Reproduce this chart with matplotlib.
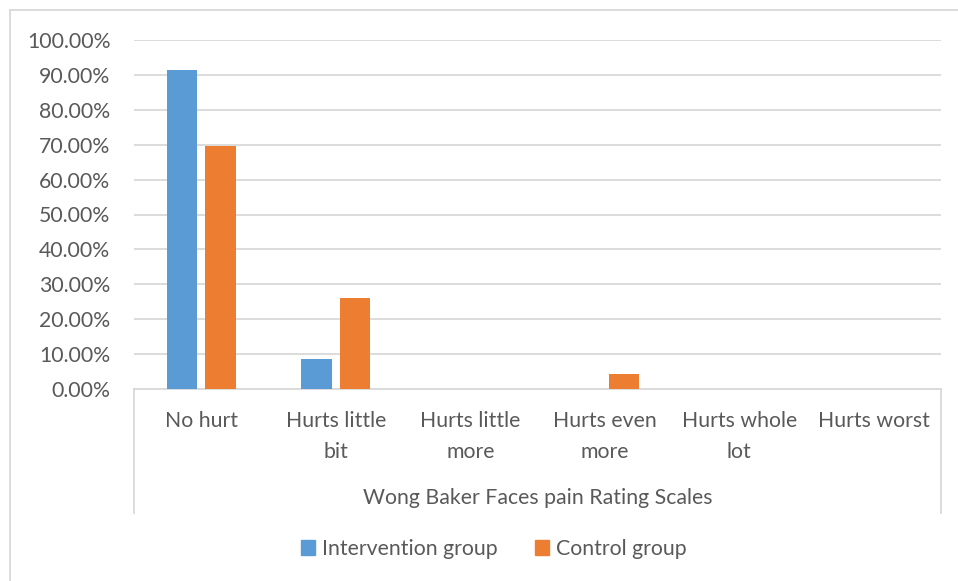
import numpy as np
import matplotlib.pyplot as plt
from matplotlib.patches import Patch
from matplotlib.lines import Line2D
from matplotlib.ticker import FuncFormatter

categories = ['No hurt', 'Hurts little\nbit', 'Hurts little\nmore',
              'Hurts even\nmore', 'Hurts whole\nlot', 'Hurts worst']
intervention = [91.30, 8.70, 0, 0, 0, 0]
control = [69.57, 26.09, 0, 4.35, 0, 0]
series_names = ['Intervention group', 'Control group']
axis_title = 'Wong Baker Faces pain Rating Scales'

BLUE = '#5B9BD5'
ORANGE = '#ED7D31'
TEXT = '#595959'
GRID = '#D9D9D9'
FS = 15.3

plt.rcParams['font.family'] = ['Lato', 'DejaVu Sans']

W, H = 958, 581
fig = plt.figure(figsize=(W / 100, H / 100), dpi=100)
ax = fig.add_axes([134 / W, 1 - 389 / H, (941 - 134) / W, (389 - 40) / H])

x = np.arange(len(categories))
width = 0.225
gap = 0.06
ax.bar(x - (width + gap) / 2, intervention, width, color=BLUE, zorder=3)
ax.bar(x + (width + gap) / 2, control, width, color=ORANGE, zorder=3)

ax.set_xlim(-0.5, len(categories) - 0.5)
ax.set_ylim(0, 100)
ax.set_yticks(np.arange(0, 101, 10))
ax.yaxis.set_major_formatter(FuncFormatter(lambda v, _: f'{v:.2f}%'))
ax.grid(axis='y', color=GRID, linewidth=1.3, zorder=0)

for side in ['top', 'right', 'left']:
    ax.spines[side].set_visible(False)
ax.spines['bottom'].set_color(GRID)
ax.spines['bottom'].set_linewidth(1.3)

ax.tick_params(axis='y', length=0, pad=17, labelsize=FS, labelcolor=TEXT)
ax.tick_params(axis='x', length=0, pad=16, labelsize=FS, labelcolor=TEXT)
ax.set_xticks(x)
ax.set_xticklabels(categories, linespacing=1.65)

# category axis side borders
for xv in [-0.5, len(categories) - 0.5]:
    ax.add_line(Line2D([xv, xv], [0, -35.5], color=GRID, linewidth=1.3,
                       clip_on=False))

fig.text(537.5 / W, 1 - 498.5 / H, axis_title, ha='center', va='center',
         fontsize=FS, color=TEXT)

# outer chart frame
fig.add_artist(Line2D([9.5 / W, 1.0], [1 - 10 / H, 1 - 10 / H],
                      color=GRID, linewidth=1.3))
fig.add_artist(Line2D([9.5 / W, 9.5 / W], [0, 1 - 10 / H],
                      color=GRID, linewidth=1.3))

handles = [Patch(color=BLUE), Patch(color=ORANGE)]
fig.legend(handles, series_names, loc='center', ncol=2,
           bbox_to_anchor=(494 / W, 1 - 549 / H), frameon=False,
           fontsize=FS, labelcolor=TEXT, handlelength=0.65, handleheight=0.65,
           handletextpad=0.35, columnspacing=1.75)

fig.savefig('out.png', dpi=100, facecolor='white')
